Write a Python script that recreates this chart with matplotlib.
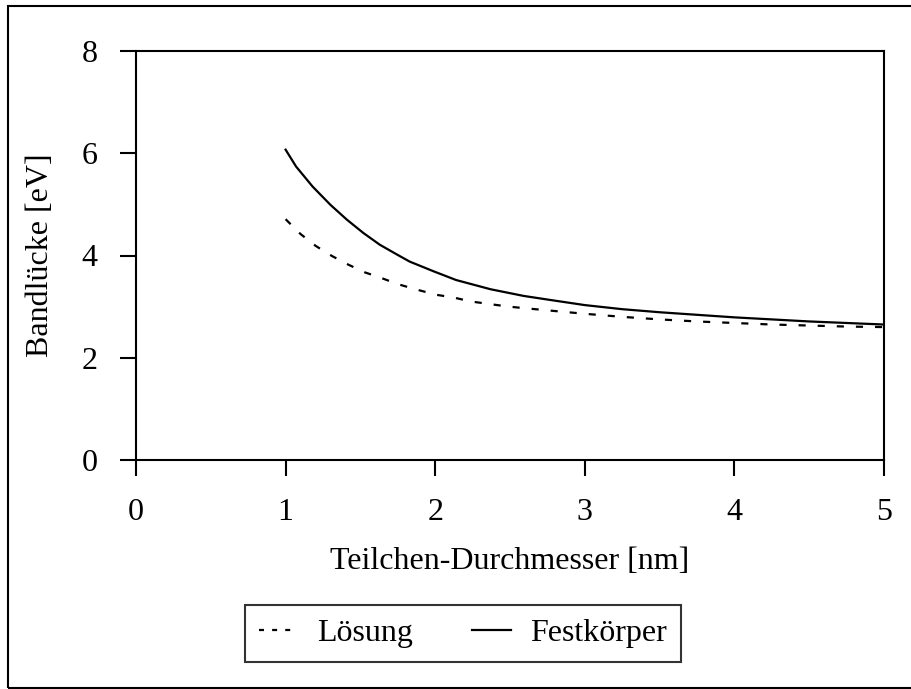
import matplotlib
matplotlib.use("Agg")
import matplotlib.pyplot as plt
from matplotlib.lines import Line2D
from matplotlib.patches import Rectangle

plt.rcParams["font.family"] = ["Liberation Serif", "DejaVu Serif"]

# Band gap vs. particle diameter
diam_fest = [1.0, 1.07, 1.18, 1.3, 1.41, 1.52, 1.63, 1.75, 1.83, 1.99, 2.14,
             2.37, 2.59, 2.77, 3.0, 3.25, 3.5, 3.75, 4.0, 4.25, 4.5, 4.75, 5.0]
gap_fest = [6.07, 5.74, 5.35, 4.99, 4.70, 4.44, 4.21, 4.01, 3.88, 3.69, 3.52,
            3.34, 3.21, 3.13, 3.03, 2.95, 2.89, 2.84, 2.79, 2.75, 2.71, 2.68, 2.65]

diam_loes = [1.0, 1.1, 1.2, 1.31, 1.42, 1.53, 1.64, 1.75, 1.88, 2.01, 2.12,
             2.24, 2.49, 2.74, 3.0, 3.25, 3.5, 3.75, 4.0, 4.25, 4.5, 4.75, 5.0]
gap_loes = [4.71, 4.42, 4.19, 3.99, 3.82, 3.67, 3.56, 3.44, 3.33, 3.23, 3.18,
            3.10, 3.00, 2.93, 2.86, 2.80, 2.75, 2.71, 2.68, 2.65, 2.63, 2.61, 2.60]

x_ticks = [0, 1, 2, 3, 4, 5]
y_ticks = [0, 2, 4, 6, 8]

fs = 23
fig = plt.figure(figsize=(9.11, 6.89), dpi=100)
ax = fig.add_axes([136 / 911, 1 - 460 / 689, (884 - 136) / 911, (460 - 51) / 689])

lw = 1.6
ax.plot(diam_loes, gap_loes, color="black", lw=lw, linestyle=(0, (3.2, 5.4)))
ax.plot(diam_fest, gap_fest, color="black", lw=lw)

ax.set_xlim(0, 5)
ax.set_ylim(0, 8)
ax.set_xticks(x_ticks)
ax.set_yticks(y_ticks)
ax.tick_params(direction="out", length=11.5, width=1.5, labelsize=fs)
ax.tick_params(axis="x", pad=16)
ax.tick_params(axis="y", pad=16)
for s in ax.spines.values():
    s.set_linewidth(1.5)

ax.set_xlabel("Teilchen-Durchmesser [nm]", fontsize=fs, labelpad=14)
ax.set_ylabel("Bandlücke [eV]", fontsize=fs, labelpad=19)

handles = [
    Line2D([], [], color="black", lw=lw, linestyle=(0, (2.25, 3.65))),
    Line2D([], [], color="black", lw=lw),
]
leg = fig.legend(handles, ["Lösung", "Festkörper"], loc="center",
                 bbox_to_anchor=(463 / 911, 1 - 633.5 / 689), ncol=2,
                 fontsize=fs, frameon=True, fancybox=False, shadow=False,
                 handlelength=1.22, columnspacing=1.85, handletextpad=0.6,
                 borderpad=0.44, borderaxespad=0)
leg.get_frame().set_edgecolor("black")
leg.get_frame().set_linewidth(1.5)

# Outer frame around the whole figure
fig.patches.append(Rectangle((8 / 911, 1 - 688 / 689), 1.0, (688 - 6) / 689,
                             transform=fig.transFigure, fill=False,
                             edgecolor="black", lw=1.5))

fig.savefig("out.png", dpi=100)
